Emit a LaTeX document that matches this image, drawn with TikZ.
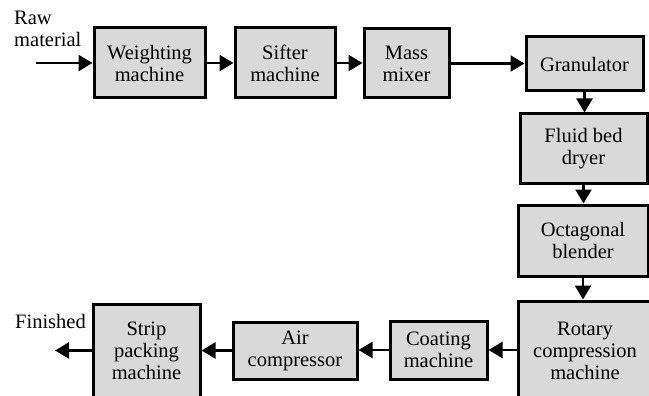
\documentclass[tikz,border=0pt]{standalone}
\usepackage{fontspec}
\setmainfont{Liberation Serif}
\usetikzlibrary{arrows.meta}
\definecolor{boxgray}{HTML}{D9D9D9}
\tikzset{
  stage/.style={draw=black, line width=3pt, fill=boxgray, align=center,
    inner sep=0pt, font=\fontsize{20.5}{22}\selectfont},
  flow/.style={line width=2.4pt, -{Triangle[length=14pt,width=16pt]}},
  plain/.style={align=left, inner sep=0pt, font=\fontsize{20.5}{22}\selectfont}
}
% box from (x1,y1) to (x2,y2), y measured downwards
\newcommand{\stagebox}[6]{%
  \node[stage, minimum width={#4-#2}, minimum height={#5-#3}]
    (#1) at ({(#2+#4)/2},{(#3+#5)/2}) {#6};}
\begin{document}
\begin{tikzpicture}[x=1pt, y=-1pt]
  \useasboundingbox (0,0) rectangle (649,396);
  \clip (0,0) rectangle (649,396);
  \fill[white] (0,0) rectangle (649,396);

  % top row
  \stagebox{W}{94}{28}{205}{98}{Weighting\\machine}
  \stagebox{S}{235}{28}{335}{98}{Sifter\\machine}
  \stagebox{M}{364}{29}{449}{98}{Mass\\mixer}
  \stagebox{G}{526}{37}{643}{91}{Granulator}
  % right column
  \stagebox{F}{520}{114}{647}{183}{Fluid bed\\dryer}
  \stagebox{O}{518}{205}{648}{276}{Octagonal\\blender}
  \stagebox{R}{518}{301}{652}{400}{Rotary\\compression\\machine}
  % bottom row
  \stagebox{C}{390}{321}{487}{379}{Coating\\machine}
  \stagebox{A}{233}{322}{357}{379}{Air\\compressor}
  \stagebox{P}{93}{304}{200}{398}{Strip\\packing\\machine}

  % labels at the ends of the line
  \node[plain, anchor=north west] (raw) at (14,11) {Raw\\material};
  \node[plain, anchor=north west] (fin) at (15,314) {Finished};
  \coordinate (in) at (36,63);
  \coordinate (out) at (55,350.5);

  % material flow
  \draw[flow] (in) -- (W.west |- in);
  \draw[flow] (W.east) -- (S.west);
  \draw[flow] (S.east) -- (S.east -| M.west);
  \draw[flow] (M.east) -- (M.east -| G.west);
  \draw[flow] (G.south) -- (G.south |- F.north);
  \draw[flow] (F.south) -- (F.south |- O.north);
  \draw[flow] (O.south) -- (O.south |- R.north);
  \draw[flow] (R.west |- C.east) -- (C.east);
  \draw[flow] (C.west) -- (C.west -| A.east);
  \draw[flow] (A.west) -- (A.west -| P.east);
  \draw[flow] (P.west |- out) -- (out);
\end{tikzpicture}
\end{document}
